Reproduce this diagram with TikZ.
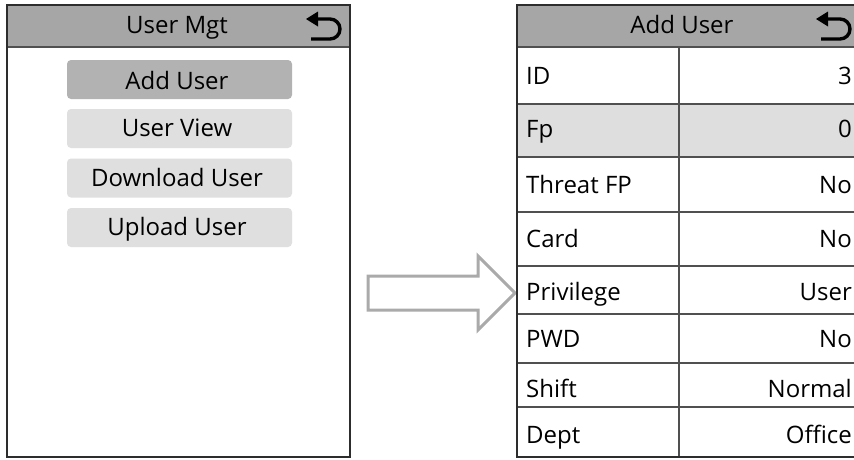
\documentclass[tikz,border=0pt]{standalone}
\usepackage{fontspec}
\setmainfont{Open Sans}
\definecolor{hdrgray}{RGB}{166,166,166}
\definecolor{btndark}{RGB}{178,178,178}
\definecolor{btnlight}{RGB}{222,223,222}
\definecolor{rowgray}{RGB}{222,222,222}
\definecolor{framecol}{RGB}{45,45,45}
\definecolor{linecol}{RGB}{80,80,80}
\definecolor{arrowcol}{RGB}{170,170,170}
\begin{document}
\begin{tikzpicture}[x=1pt,y=-1pt,
  txt/.style={font=\fontsize{24}{28}\selectfont, text=black, inner sep=0pt},
  btn/.style={rounded corners=4pt, minimum width=225pt, minimum height=39pt, inner sep=0pt},
  frame/.style={draw=framecol, line width=1.8pt},
  rowline/.style={draw=linecol, line width=1.3pt},
  backarrow/.pic={
    \fill[black] (0,0) -- (12,-7.5) -- (12,7.5) -- cycle;
    \draw[black, line width=3.4pt] (11,0) -- (24,0) arc(-90:90:10) -- (5,20);
  }]
\useasboundingbox (0,0) rectangle (854,459);
\fill[white] (0,0) rectangle (854,459);

% ---------- left panel ----------
\fill[hdrgray] (7,5) rectangle (350,47);
\draw[rowline] (7,47) -- (350,47);
\draw[frame] (7,5) rectangle (350,457);
\node[txt, anchor=base] (t1) at (177,33) {User Mgt};
\pic at (306,19) {backarrow};

\node[btn, fill=btndark]  (b1) at (179.5,79.5) {};
\node[btn, fill=btnlight] (b2) at (179.5,128.5) {};
\node[btn, fill=btnlight] (b3) at (179.5,178) {};
\node[btn, fill=btnlight] (b4) at (179.5,227.5) {};
\node[txt, anchor=base] (l1) at (177,89) {Add User};
\node[txt, anchor=base] (l2) at (177,136) {User View};
\node[txt, anchor=base] (l3) at (177,186) {Download User};
\node[txt, anchor=base] (l4) at (177,235) {Upload User};

% ---------- block arrow ----------
\draw[arrowcol, line width=3pt, fill=white]
  (368,276) -- (478,276) -- (478,256) -- (515,293) -- (478,330) -- (478,310) -- (368,310) -- cycle;

% ---------- right panel ----------
\begin{scope}
\clip (0,0) rectangle (854,459);
\fill[hdrgray] (517,5) rectangle (866,47);
\fill[rowgray] (517,104) rectangle (866,157);
\foreach \yy in {47,104,157,212,266,314,363,407}
  \draw[rowline] (517,\yy) -- (866,\yy);
\draw[rowline] (679,47) -- (679,457);
\draw[frame] (517,5) rectangle (866,457);
\end{scope}
\node[txt, anchor=base] (t2) at (682,33) {Add User};
\pic at (816,19) {backarrow};

\foreach \nm/\lab/\val/\bl in {r1/ID/3/84, r2/Fp/0/137, r3/Threat FP/No/193, r4/Card/No/247,
    r5/Privilege/User/300, r6/PWD/No/347, r7/Shift/Normal/397, r8/Dept/Office/443} {
  \node[txt, anchor=base west] (\nm k) at (526,\bl) {\lab};
  \node[txt, anchor=base east] (\nm v) at (852,\bl) {\val};
}
\end{tikzpicture}
\end{document}
